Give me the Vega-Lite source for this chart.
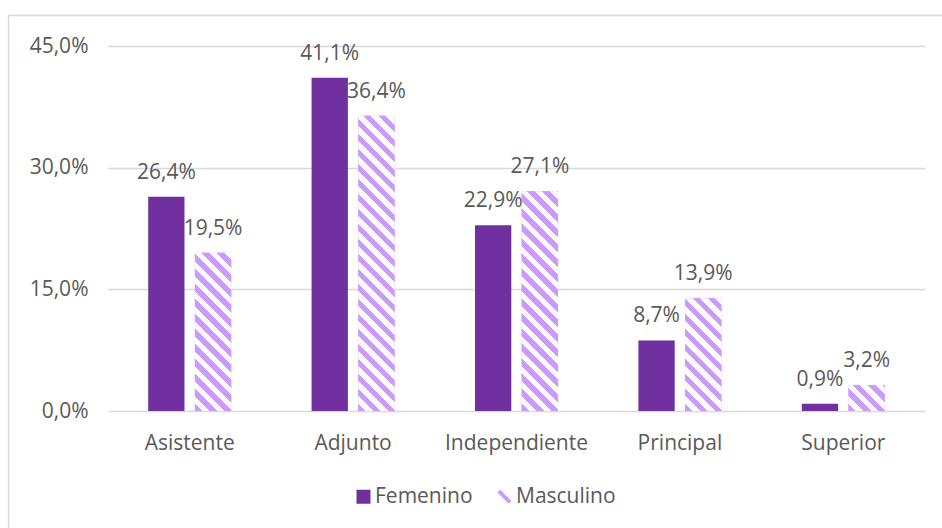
{
  "$schema": "https://vega.github.io/schema/vega-lite/v6.json",
  "width": 817,
  "height": 365,
  "autosize": "none",
  "padding": {"left": 108, "top": 46, "right": 17, "bottom": 117},
  "background": "white",
  "config": {
    "font": "Open Sans",
    "locale": {"number": {"decimal": ",", "thousands": ".", "grouping": [3], "currency": ["", " €"]}},
    "view": {"stroke": null}
  },
  "params": [
    {"name": "hatch", "value": [
{"offset":0,"color":"#CC99FF"},
{"offset":0.0227,"color":"#CC99FF"},{"offset":0.0227,"color":"#FFFFFF"},
{"offset":0.0455,"color":"#FFFFFF"},{"offset":0.0455,"color":"#CC99FF"},
{"offset":0.0682,"color":"#CC99FF"},{"offset":0.0682,"color":"#FFFFFF"},
{"offset":0.0909,"color":"#FFFFFF"},{"offset":0.0909,"color":"#CC99FF"},
{"offset":0.1136,"color":"#CC99FF"},{"offset":0.1136,"color":"#FFFFFF"},
{"offset":0.1364,"color":"#FFFFFF"},{"offset":0.1364,"color":"#CC99FF"},
{"offset":0.1591,"color":"#CC99FF"},{"offset":0.1591,"color":"#FFFFFF"},
{"offset":0.1818,"color":"#FFFFFF"},{"offset":0.1818,"color":"#CC99FF"},
{"offset":0.2045,"color":"#CC99FF"},{"offset":0.2045,"color":"#FFFFFF"},
{"offset":0.2273,"color":"#FFFFFF"},{"offset":0.2273,"color":"#CC99FF"},
{"offset":0.25,"color":"#CC99FF"},{"offset":0.25,"color":"#FFFFFF"},
{"offset":0.2727,"color":"#FFFFFF"},{"offset":0.2727,"color":"#CC99FF"},
{"offset":0.2955,"color":"#CC99FF"},{"offset":0.2955,"color":"#FFFFFF"},
{"offset":0.3182,"color":"#FFFFFF"},{"offset":0.3182,"color":"#CC99FF"},
{"offset":0.3409,"color":"#CC99FF"},{"offset":0.3409,"color":"#FFFFFF"},
{"offset":0.3636,"color":"#FFFFFF"},{"offset":0.3636,"color":"#CC99FF"},
{"offset":0.3864,"color":"#CC99FF"},{"offset":0.3864,"color":"#FFFFFF"},
{"offset":0.4091,"color":"#FFFFFF"},{"offset":0.4091,"color":"#CC99FF"},
{"offset":0.4318,"color":"#CC99FF"},{"offset":0.4318,"color":"#FFFFFF"},
{"offset":0.4545,"color":"#FFFFFF"},{"offset":0.4545,"color":"#CC99FF"},
{"offset":0.4773,"color":"#CC99FF"},{"offset":0.4773,"color":"#FFFFFF"},
{"offset":0.5,"color":"#FFFFFF"},{"offset":0.5,"color":"#CC99FF"},
{"offset":0.5227,"color":"#CC99FF"},{"offset":0.5227,"color":"#FFFFFF"},
{"offset":0.5455,"color":"#FFFFFF"},{"offset":0.5455,"color":"#CC99FF"},
{"offset":0.5682,"color":"#CC99FF"},{"offset":0.5682,"color":"#FFFFFF"},
{"offset":0.5909,"color":"#FFFFFF"},{"offset":0.5909,"color":"#CC99FF"},
{"offset":0.6136,"color":"#CC99FF"},{"offset":0.6136,"color":"#FFFFFF"},
{"offset":0.6364,"color":"#FFFFFF"},{"offset":0.6364,"color":"#CC99FF"},
{"offset":0.6591,"color":"#CC99FF"},{"offset":0.6591,"color":"#FFFFFF"},
{"offset":0.6818,"color":"#FFFFFF"},{"offset":0.6818,"color":"#CC99FF"},
{"offset":0.7045,"color":"#CC99FF"},{"offset":0.7045,"color":"#FFFFFF"},
{"offset":0.7273,"color":"#FFFFFF"},{"offset":0.7273,"color":"#CC99FF"},
{"offset":0.75,"color":"#CC99FF"},{"offset":0.75,"color":"#FFFFFF"},
{"offset":0.7727,"color":"#FFFFFF"},{"offset":0.7727,"color":"#CC99FF"},
{"offset":0.7955,"color":"#CC99FF"},{"offset":0.7955,"color":"#FFFFFF"},
{"offset":0.8182,"color":"#FFFFFF"},{"offset":0.8182,"color":"#CC99FF"},
{"offset":0.8409,"color":"#CC99FF"},{"offset":0.8409,"color":"#FFFFFF"},
{"offset":0.8636,"color":"#FFFFFF"},{"offset":0.8636,"color":"#CC99FF"},
{"offset":0.8864,"color":"#CC99FF"},{"offset":0.8864,"color":"#FFFFFF"},
{"offset":0.9091,"color":"#FFFFFF"},{"offset":0.9091,"color":"#CC99FF"},
{"offset":0.9318,"color":"#CC99FF"},{"offset":0.9318,"color":"#FFFFFF"},
{"offset":0.9545,"color":"#FFFFFF"},{"offset":0.9545,"color":"#CC99FF"},
{"offset":0.9773,"color":"#CC99FF"},{"offset":0.9773,"color":"#FFFFFF"},
{"offset":1,"color":"#FFFFFF"}
    ]}
  ],
  "data": {"values": [
    {"categoria": "Asistente", "sexo": "Femenino", "valor": 0.264},
    {"categoria": "Asistente", "sexo": "Masculino", "valor": 0.195},
    {"categoria": "Adjunto", "sexo": "Femenino", "valor": 0.411},
    {"categoria": "Adjunto", "sexo": "Masculino", "valor": 0.364},
    {"categoria": "Independiente", "sexo": "Femenino", "valor": 0.229},
    {"categoria": "Independiente", "sexo": "Masculino", "valor": 0.271},
    {"categoria": "Principal", "sexo": "Femenino", "valor": 0.087},
    {"categoria": "Principal", "sexo": "Masculino", "valor": 0.139},
    {"categoria": "Superior", "sexo": "Femenino", "valor": 0.009},
    {"categoria": "Superior", "sexo": "Masculino", "valor": 0.032}
  ]},
  "layer": [
    {
      "encoding": {
        "x": {
          "field": "categoria", "type": "nominal",
          "sort": ["Asistente", "Adjunto", "Independiente", "Principal", "Superior"],
          "scale": {"paddingInner": 0.492, "paddingOuter": 0.246},
          "axis": {"title": null, "labelAngle": 0, "ticks": false, "domain": false, "grid": false,
                   "labelFontSize": 21, "labelColor": "#595959", "labelPadding": 21}
        },
        "xOffset": {
          "field": "sexo", "type": "nominal", "sort": ["Femenino", "Masculino"],
          "scale": {"paddingInner": 0.223, "paddingOuter": 0}
        },
        "y": {
          "field": "valor", "type": "quantitative", "stack": null,
          "scale": {"domain": [0, 0.45], "nice": false},
          "axis": {"title": null, "values": [0, 0.15, 0.3, 0.45], "format": ".1%", "ticks": false, "domain": false,
                   "labelFontSize": 21, "labelColor": "#595959", "labelPadding": 20,
                   "gridColor": "#D9D9D9", "gridWidth": 1.5}
        }
      },
      "layer": [
        {
          "mark": {"type": "bar"},
          "encoding": {
            "color": {
              "field": "sexo", "type": "nominal",
              "scale": {"domain": ["Femenino", "Masculino"], "range": ["#7030A0", "#CC99FF"]},
              "legend": {
                "orient": "none", "legendX": 245, "legendY": 440, "direction": "horizontal",
                "title": null, "symbolSize": 196, "symbolStrokeWidth": 0,
                "labelFontSize": 21, "labelColor": "#595959", "labelOffset": 1,
                "columnPadding": 21, "padding": 0,
                "encode": {"symbols": {"update": {"shape": {"signal": "datum.value === 'Masculino' ? 'M-1,-0.6L-0.6,-1L1,0.6L0.6,1Z' : 'square'"}}}}
              }
            }
          }
        },
        {
          "transform": [{"filter": "datum.sexo === 'Masculino'"}],
          "mark": {
            "type": "bar",
            "fill": {"expr": "{gradient: 'linear', x1: 0, y1: 1, x2: 11979 / (1317.7 + pow(datum.valor * 811.11, 2)), y2: 1 - 330 * datum.valor * 811.11 / (1317.7 + pow(datum.valor * 811.11, 2)), stops: hatch}"}
          }
        },
        {
          "mark": {"type": "text", "dy": -24, "fontSize": 21, "color": "#595959"},
          "encoding": {"text": {"field": "valor", "type": "quantitative", "format": ".1%"}}
        }
      ]
    },
    {
      "mark": {"type": "point", "opacity": 0},
      "encoding": {
        "x": {
          "field": "valor", "type": "quantitative",
          "scale": {"range": [-100, 840]},
          "axis": {"orient": "top", "offset": 31, "labels": false, "ticks": false, "grid": false,
                   "title": null, "domainColor": "#D9D9D9", "domainWidth": 1.5}
        },
        "y": {
          "field": "valor", "type": "quantitative",
          "scale": {"range": [490, -31]},
          "axis": {"orient": "left", "offset": 100, "labels": false, "ticks": false, "grid": false,
                   "title": null, "domainColor": "#D9D9D9", "domainWidth": 1.5}
        }
      }
    }
  ],
  "resolve": {
    "scale": {"x": "independent", "y": "independent"},
    "axis": {"x": "independent", "y": "independent"}
  }
}
